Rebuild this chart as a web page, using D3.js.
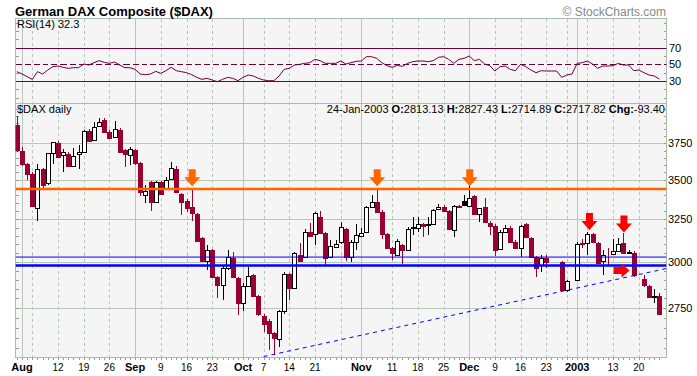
<!DOCTYPE html>
<html>
<head>
<meta charset="utf-8">
<script src="https://cdn.jsdelivr.net/npm/d3@7"></script>
<style>
  body { margin: 0; background: #fff; }
</style>
</head>
<body>
<div id="chart"></div>
<script>
// ---- data ----
var dates = [
  "2002-07-31",
  "2002-08-01","2002-08-02","2002-08-05","2002-08-06","2002-08-07","2002-08-08","2002-08-09",
  "2002-08-12","2002-08-13","2002-08-14","2002-08-15","2002-08-16","2002-08-19","2002-08-20",
  "2002-08-21","2002-08-22","2002-08-23","2002-08-26","2002-08-27","2002-08-28","2002-08-29","2002-08-30",
  "2002-09-02","2002-09-03","2002-09-04","2002-09-05","2002-09-06","2002-09-09","2002-09-10",
  "2002-09-11","2002-09-12","2002-09-13","2002-09-16","2002-09-17","2002-09-18","2002-09-19",
  "2002-09-20","2002-09-23","2002-09-24","2002-09-25","2002-09-26","2002-09-27","2002-09-30",
  "2002-10-01","2002-10-02","2002-10-03","2002-10-04","2002-10-07","2002-10-08","2002-10-09",
  "2002-10-10","2002-10-11","2002-10-14","2002-10-15","2002-10-16","2002-10-17","2002-10-18",
  "2002-10-21","2002-10-22","2002-10-23","2002-10-24","2002-10-25","2002-10-28","2002-10-29",
  "2002-10-30","2002-10-31",
  "2002-11-01","2002-11-04","2002-11-05","2002-11-06","2002-11-07","2002-11-08","2002-11-11",
  "2002-11-12","2002-11-13","2002-11-14","2002-11-15","2002-11-18","2002-11-19","2002-11-20",
  "2002-11-21","2002-11-22","2002-11-25","2002-11-26","2002-11-27","2002-11-28","2002-11-29",
  "2002-12-02","2002-12-03","2002-12-04","2002-12-05","2002-12-06","2002-12-09","2002-12-10",
  "2002-12-11","2002-12-12","2002-12-13","2002-12-16","2002-12-17","2002-12-18","2002-12-19",
  "2002-12-20","2002-12-23","2002-12-24","2002-12-26","2002-12-27","2002-12-30","2002-12-31",
  "2003-01-02","2003-01-03","2003-01-06","2003-01-07","2003-01-08","2003-01-09","2003-01-10",
  "2003-01-13","2003-01-14","2003-01-15","2003-01-16","2003-01-17","2003-01-20","2003-01-21",
  "2003-01-22","2003-01-23","2003-01-24"
];

var opens = [
  3885,3700,3606,3539,3323,3572,3479,3686,3753,3667,
  3676,3597,3676,3688,3841,3774,3877,3918,3834,3795,
  3843,3702,3667,3702,3615,3400,3484,3359,3484,3449,
  3510,3576,3408,3366,3328,3283,3136,3002,3068,2918,
  2873,2965,3024,2909,2777,2868,2927,2815,2711,2682,
  2621,2592,2737,2933,2858,3040,3030,3172,3160,3266,
  3166,3030,3087,3112,3192,3030,3116,3152,3172,3324,
  3355,3297,3160,3078,3040,3097,3066,3200,3196,3220,
  3216,3220,3313,3328,3301,3186,3334,3367,3334,3396,
  3280,3328,3230,3212,3072,3176,3200,3116,3078,3220,
  3140,3030,2983,3024,2998,2998,2998,2843,2892.63,2900,
  3108,3110,3162,3110,3006,3040,3045,3064,3110,3052,
  3053,2950,2905,2868,2809,2813.13
];
var highs = [
  3946,3723,3613,3552,3606,3579,3681,3763,3765,3711,
  3688,3721,3739,3843,3850,3906,3936,3931,3843,3909,
  3858,3709,3723,3709,3619,3466,3492,3492,3492,3519,
  3619,3592,3415,3376,3439,3289,3144,3097,3074,2922,
  2983,3068,3057,2916,2884,2973,2933,2820,2717,2691,
  2626,2742,2944,2938,3057,3110,3190,3226,3295,3303,
  3174,3126,3126,3234,3198,3126,3222,3200,3332,3402,
  3434,3307,3168,3086,3132,3103,3206,3262,3262,3228,
  3262,3313,3345,3339,3307,3339,3339,3402,3466,3402,
  3321,3383,3240,3222,3186,3216,3210,3126,3216,3228,
  3144,3034,3040,3040,2998,2998,3004,2900,2892.63,3114,
  3130,3174,3168,3114,3068,3078,3130,3138,3166,3068,
  3063,2950,2927,2873,2851,2827.43
];
var lows = [
  3688,3592,3499,3326,3240,3434,3466,3606,3647,3552,
  3592,3585,3574,3681,3765,3765,3865,3822,3786,3786,
  3688,3588,3599,3599,3396,3351,3301,3351,3402,3441,
  3506,3421,3276,3297,3242,3120,3006,2955,2916,2803,
  2794,2955,2916,2716,2733,2862,2810,2711,2626,2543,
  2519,2553,2717,2794,2851,3000,3023,3144,3097,3162,
  2983,3023,3080,3103,3002,3000,3068,3144,3168,3320,
  3295,3132,3074,3011,3034,2987,3063,3156,3176,3146,
  3156,3216,3307,3295,3186,3146,3329,3332,3332,3276,
  3232,3228,3156,3034,3068,3174,3114,3074,3030,3144,
  3030,2918,2944,2966,2998,2998,2840,2836,2892.63,2895,
  3078,3040,3114,2989,2927,2983,3040,3063,3046,3046,
  2916,2950,2862,2800,2777,2714.89
];
var closes = [
  3702,3608,3539,3334,3572,3468,3681,3763,3654,3688,
  3597,3665,3688,3841,3767,3870,3906,3829,3791,3855,
  3690,3674,3714,3615,3425,3430,3359,3484,3406,3499,
  3583,3423,3359,3323,3291,3122,3007,3068,2918,2873,
  2965,3027,2918,2777,2868,2922,2815,2717,2666,2621,
  2597,2737,2933,2853,3049,3007,3172,3150,3287,3166,
  3021,3091,3103,3202,3030,3112,3156,3166,3328,3355,
  3297,3160,3078,3049,3120,3068,3192,3206,3220,3212,
  3222,3307,3328,3301,3192,3334,3329,3339,3381,3280,
  3321,3232,3212,3068,3176,3196,3116,3081,3210,3146,
  3030,2965,3024,2998,2998,2998,2843,2892.63,2892.63,3105,
  3100,3162,3116,2993,3040,3037,3063,3103,3049,3054,
  2927,2950,2873,2808,2811.22,2717.82
];

var rsiValues = [
  41.2,38.4,35.2,32.0,41.2,38.4,43.2,47.2,48.0,46.4,
  45.2,46.0,46.0,50.4,49.2,52.0,54.4,52.4,51.2,52.8,
  49.2,46.0,46.0,44.0,38.4,37.6,38.4,41.6,39.2,42.4,
  46.4,42.4,41.2,40.0,37.6,34.4,32.0,33.2,31.2,29.2,
  32.0,34.4,33.2,30.4,34.4,37.2,36.0,33.2,31.2,30.4,
  30.4,36.0,44.0,45.2,49.2,50.0,51.2,52.0,56.0,54.4,
  51.2,51.2,51.2,54.0,50.4,52.0,53.6,54.0,59.2,59.2,
  57.2,52.0,48.4,46.4,48.8,47.6,51.2,53.2,54.0,54.0,
  53.2,54.4,58.4,59.2,56.0,51.2,56.0,57.2,60.0,54.4,
  56.0,50.4,48.4,42.0,47.2,48.0,44.0,42.4,50.0,47.2,
  43.2,40.0,42.4,42.0,42.0,42.0,34.4,37.2,38.4,51.2,
  52.0,54.0,50.4,45.2,48.0,48.0,48.4,51.2,49.2,49.2,
  42.4,43.2,40.0,37.2,36.0,32.3
];

// axis labels
var monthDates = ["2002-08-01","2002-09-02","2002-10-01","2002-11-01","2002-12-02","2003-01-02"];
var monthLabels = ["Aug","Sep","Oct","Nov","Dec","2003"];
var weekDates = ["2002-08-05","2002-08-12","2002-08-19","2002-08-26","2002-09-09","2002-09-16",
  "2002-09-23","2002-10-07","2002-10-14","2002-10-21","2002-10-28","2002-11-11","2002-11-18",
  "2002-11-25","2002-12-09","2002-12-16","2002-12-23","2002-12-30","2003-01-06","2003-01-13","2003-01-20"];
var weekLabels = ["","12","19","26","9","16","23","7","14","21","","11","18","25","9","16","23","","","13","20"];
var priceTicks = [2750, 3000, 3250, 3500, 3750];
var rsiLevels = [70, 50, 30];

// annotations
var orangeLevel = 3442;
var blueLevels = [3027, 2979];
var trendStart = "2002-10-07";
var trendDates = ["2002-10-09", "2003-01-24"];
var trendPrices = [2520, 2954];
var orangeArrowDates = ["2002-09-17", "2002-11-06", "2002-12-02"];
var orangeArrowTip = 3460;
var redArrowDates = ["2003-01-06", "2003-01-15"];
var redArrowTips = [3186, 3170];
var rightArrowDate = "2003-01-16";
var rightArrowPrice = 2952;

// ---- layout ----
var W = 697, H = 376;
var panelLeft = 15.5, panelRight = 666.5;
var rsiTop = 18.5, rsiBottom = 103.5;
var priceTop = 103.5, priceBottom = 357.5;

var MAROON = "#990033", RSI_COLOR = "#6b0036", GRID = "#b6c8b6", BG = "#f5f5f5";
var FONT = "'Liberation Sans', Arial, sans-serif";

var svg = d3.select("#chart")
  .append("svg")
  .attr("width", W)
  .attr("height", H)
  .style("font-family", FONT);

var x = d3.scalePoint().domain(dates).range([16.9, 659.4]);
var y = d3.scaleLog().domain([2505, 4043]).range([priceBottom, priceTop]);
var yRsi = d3.scaleLinear().domain([0, 100]).range([106, 22.7]);

function px(d) { return Math.round(x(d)) + 0.5; }

// clip paths
var defs = svg.append("defs");
defs.append("clipPath").attr("id", "clipPrice").append("rect")
  .attr("x", panelLeft).attr("y", priceTop).attr("width", panelRight - panelLeft).attr("height", priceBottom - priceTop);
defs.append("clipPath").attr("id", "clipRsi").append("rect")
  .attr("x", panelLeft).attr("y", rsiTop).attr("width", panelRight - panelLeft).attr("height", rsiBottom - rsiTop);

// panel backgrounds
[[rsiTop, rsiBottom], [priceTop, priceBottom]].forEach(function(p) {
  svg.append("rect")
    .attr("x", panelLeft).attr("y", p[0])
    .attr("width", panelRight - panelLeft).attr("height", p[1] - p[0])
    .attr("fill", BG);
});

// vertical grid
var grid = svg.append("g").attr("shape-rendering", "crispEdges");
grid.selectAll(".wk").data(weekDates).enter().append("line")
  .attr("x1", px).attr("x2", px)
  .attr("y1", rsiTop).attr("y2", priceBottom)
  .attr("stroke", GRID).attr("stroke-dasharray", "3,3");
grid.selectAll(".mo").data(monthDates).enter().append("line")
  .attr("x1", px).attr("x2", px)
  .attr("y1", rsiTop).attr("y2", priceBottom)
  .attr("stroke", GRID);

// horizontal price grid
grid.selectAll(".hp").data(priceTicks).enter().append("line")
  .attr("x1", panelLeft).attr("x2", panelRight)
  .attr("y1", function(d) { return Math.round(y(d)) + 0.5; })
  .attr("y2", function(d) { return Math.round(y(d)) + 0.5; })
  .attr("stroke", GRID);

// small edge ticks
var minorPrice = d3.range(2550, 4050, 50);
var minorRsi = d3.range(10, 101, 10);
[[minorPrice, y], [minorRsi, yRsi]].forEach(function(t) {
  var sc = t[1];
  [panelLeft, panelRight].forEach(function(edge, k) {
    grid.selectAll(null).data(t[0]).enter().append("line")
      .attr("x1", edge).attr("x2", k === 0 ? edge + 3 : edge - 3)
      .attr("y1", function(d) { return Math.round(sc(d)) + 0.5; })
      .attr("y2", function(d) { return Math.round(sc(d)) + 0.5; })
      .attr("stroke", "#999");
  });
});

// daily ticks under the price panel
grid.selectAll(".dt").data(dates).enter().append("line")
  .attr("x1", px).attr("x2", px)
  .attr("y1", priceBottom).attr("y2", priceBottom + 2)
  .attr("stroke", "#999");

// panel borders
[[rsiTop, rsiBottom], [priceTop, priceBottom]].forEach(function(p) {
  grid.append("rect")
    .attr("x", panelLeft).attr("y", p[0])
    .attr("width", panelRight - panelLeft).attr("height", p[1] - p[0])
    .attr("fill", "none").attr("stroke", "#a9bda9");
});

// ---- RSI panel ----
var rsiG = svg.append("g").attr("clip-path", "url(#clipRsi)");
rsiG.selectAll(".lvl").data(rsiLevels).enter().append("line")
  .attr("x1", panelLeft).attr("x2", panelRight)
  .attr("y1", function(d) { return Math.round(yRsi(d)) + 0.5; })
  .attr("y2", function(d) { return Math.round(yRsi(d)) + 0.5; })
  .attr("stroke", RSI_COLOR)
  .attr("stroke-dasharray", function(d) { return d === 50 ? "6,3" : null; })
  .attr("shape-rendering", "crispEdges");

rsiG.append("path")
  .datum(rsiValues)
  .attr("fill", "none")
  .attr("stroke", RSI_COLOR)
  .attr("stroke-width", 1)
  .attr("d", d3.line().x(function(d, i) { return x(dates[i]); }).y(function(d) { return yRsi(d); }));

svg.selectAll(".rsil").data(rsiLevels).enter().append("text")
  .attr("x", 669).attr("y", function(d) { return yRsi(d); })
  .attr("dy", "0.35em")
  .attr("font-size", "11px")
  .text(function(d) { return d; });

svg.append("text").attr("x", 17).attr("y", 27.5).attr("font-size", "11px").text("RSI(14)");
svg.append("text").attr("x", 58).attr("y", 27.5).attr("font-size", "11px")
  .text(rsiValues[rsiValues.length - 1].toFixed(1));

// ---- price panel ----
var priceG = svg.append("g").attr("clip-path", "url(#clipPrice)");

var candles = dates.map(function(d, i) {
  return { date: d, o: opens[i], h: highs[i], l: lows[i], c: closes[i],
           prev: i > 0 ? closes[i - 1] : opens[i] };
});

var cg = priceG.append("g").attr("shape-rendering", "crispEdges");
cg.selectAll(".wick").data(candles).enter().append("line")
  .attr("x1", function(d) { return px(d.date); })
  .attr("x2", function(d) { return px(d.date); })
  .attr("y1", function(d) { return y(d.h); })
  .attr("y2", function(d) { return y(d.l); })
  .attr("stroke", function(d) { return d.c < d.prev ? MAROON : "#000"; });

cg.selectAll(".body").data(candles).enter().append("rect")
  .attr("x", function(d) { return Math.round(x(d.date)) - 2 + 0.5; })
  .attr("width", 4)
  .attr("y", function(d) { return Math.round(y(Math.max(d.o, d.c))) + 0.5; })
  .attr("height", function(d) {
    return Math.round(y(Math.min(d.o, d.c))) - Math.round(y(Math.max(d.o, d.c)));
  })
  .attr("fill", function(d) {
    if (d.c < d.o) return d.c < d.prev ? MAROON : "#000";
    return "#fff";
  })
  .attr("stroke", function(d) { return d.c < d.prev ? MAROON : "#000"; });

// support / resistance lines
priceG.append("line")
  .attr("x1", panelLeft).attr("x2", panelRight)
  .attr("y1", y(orangeLevel)).attr("y2", y(orangeLevel))
  .attr("stroke", "#ff6600").attr("stroke-width", 2.5);

priceG.selectAll(".blue").data(blueLevels).enter().append("line")
  .attr("x1", panelLeft).attr("x2", panelRight)
  .attr("y1", function(d) { return y(d); })
  .attr("y2", function(d) { return y(d); })
  .attr("stroke", "#0000ff")
  .attr("stroke-width", function(d, i) { return i === 0 ? 1 : 2.5; });

// trend line, straight on the log scale
var tx0 = x(trendDates[0]), ty0 = y(trendPrices[0]);
var tx1 = x(trendDates[1]), ty1 = y(trendPrices[1]);
var slope = (ty1 - ty0) / (tx1 - tx0);
var sx = x(trendStart), ex = panelRight + 2;
priceG.append("line")
  .attr("x1", sx).attr("y1", ty0 + slope * (sx - tx0))
  .attr("x2", ex).attr("y2", ty0 + slope * (ex - tx0))
  .attr("stroke", "#0000ff").attr("stroke-width", 1)
  .attr("stroke-dasharray", "4,4");

// arrows
function downArrow(cx, tip, color) {
  priceG.append("path")
    .attr("d", "M" + (cx - 3.5) + "," + (tip - 17) + "H" + (cx + 3.5) + "V" + (tip - 9) +
               "H" + (cx + 8) + "L" + cx + "," + tip + "L" + (cx - 8) + "," + (tip - 9) +
               "H" + (cx - 3.5) + "Z")
    .attr("fill", color);
}
orangeArrowDates.forEach(function(d) { downArrow(x(d) + 0.5, y(orangeArrowTip), "#ff6600"); });
redArrowDates.forEach(function(d, i) { downArrow(x(d) + (i === 0 ? 2 : 0.5), y(redArrowTips[i]), "#ff0000"); });

var rx = x(rightArrowDate) + 1, ry = y(rightArrowPrice);
priceG.append("path")
  .attr("d", "M" + (rx - 16) + "," + (ry - 3.5) + "H" + (rx - 8) + "V" + (ry - 7) +
             "L" + rx + "," + ry + "L" + (rx - 8) + "," + (ry + 7) + "V" + (ry + 3.5) +
             "H" + (rx - 16) + "Z")
  .attr("fill", "#ff0000");

// price labels
svg.selectAll(".pl").data(priceTicks).enter().append("text")
  .attr("x", 668).attr("y", function(d) { return y(d); })
  .attr("dy", "0.35em")
  .attr("font-size", "11px")
  .text(function(d) { return d; });

// header lines
svg.append("text").attr("x", 17).attr("y", 113).attr("font-size", "11px").text("$DAX daily");

var last = candles[candles.length - 1];
function fmt(v) { return v.toFixed(2); }
var hdr = svg.append("text").attr("x", 665).attr("y", 113)
  .attr("font-size", "11px").attr("text-anchor", "end");
hdr.append("tspan").text(d3.timeFormat("%d-%b-%Y")(d3.timeParse("%Y-%m-%d")(last.date)) + " ");
[["O:", last.o], ["H:", last.h], ["L:", last.l], ["C:", last.c]].forEach(function(p) {
  hdr.append("tspan").attr("font-weight", "bold").text(p[0]);
  hdr.append("tspan").text(fmt(p[1]) + " ");
});
hdr.append("tspan").attr("font-weight", "bold").text("Chg:");
hdr.append("tspan").text(fmt(last.c - last.prev));

// x axis labels
svg.selectAll(".ml").data(monthDates).enter().append("text")
  .attr("x", function(d) { return x(d); })
  .attr("y", 371)
  .attr("text-anchor", "middle")
  .attr("font-size", "11px")
  .attr("font-weight", "bold")
  .text(function(d, i) { return monthLabels[i]; });

svg.selectAll(".wl").data(weekDates).enter().append("text")
  .attr("x", function(d) { return x(d); })
  .attr("y", 371)
  .attr("text-anchor", "middle")
  .attr("font-size", "10px")
  .text(function(d, i) { return weekLabels[i]; });

// title
svg.append("text").attr("x", 15).attr("y", 15.5)
  .attr("font-size", "13px").attr("font-weight", "bold")
  .text("German DAX Composite ($DAX)");
svg.append("text").attr("x", 666).attr("y", 15.5)
  .attr("font-size", "12px").attr("text-anchor", "end").attr("fill", "#888")
  .text("\u00a9 StockCharts.com");
</script>
</body>
</html>
